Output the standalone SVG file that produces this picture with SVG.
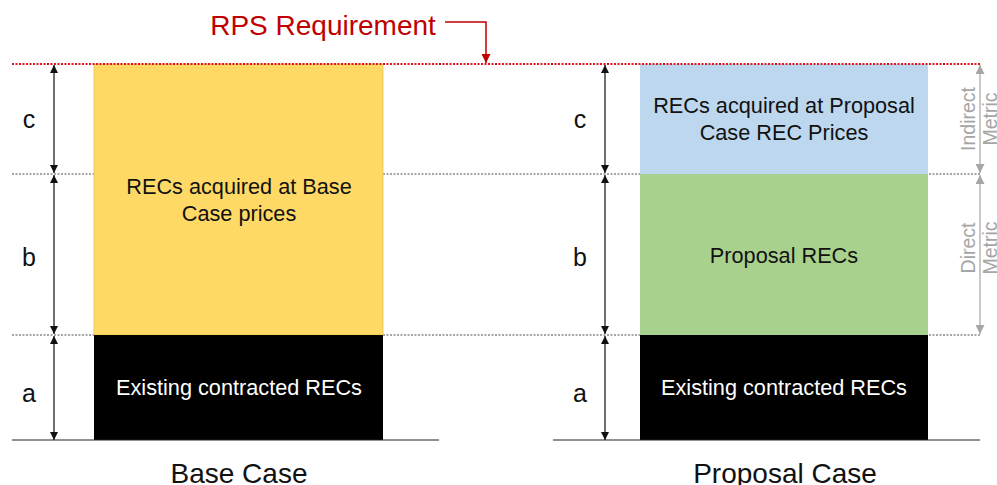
<svg xmlns="http://www.w3.org/2000/svg" width="997" height="485" viewBox="0 0 997 485">
<style>
text{font-family:"Liberation Sans",Arial,sans-serif}
.box{font-size:21.7px;text-anchor:middle;fill:#111}
.wt{font-size:21.7px;text-anchor:middle;fill:#fff}
.lbl{font-size:25px;text-anchor:middle;fill:#111}
.ttl{font-size:28px;text-anchor:middle;fill:#111}
.met{font-size:19.5px;text-anchor:middle;fill:#a6a6a6}
.dim{stroke:#111;stroke-width:1.2;fill:none}
.gdim{stroke:#a6a6a6;stroke-width:1.2;fill:none}
.grid{stroke:#a6a6a6;stroke-width:2;stroke-dasharray:2 1.5;fill:none}
.base{stroke:#222;stroke-width:1;fill:none}
</style>
<defs>
<marker id="ah" viewBox="0 0 10 10" refX="10" refY="5" markerWidth="8" markerHeight="8" markerUnits="userSpaceOnUse" orient="auto-start-reverse"><path d="M0,0 L10,5 L0,10 z" fill="#111"/></marker>
<marker id="gh" viewBox="0 0 10 10" refX="10" refY="5" markerWidth="9" markerHeight="9" markerUnits="userSpaceOnUse" orient="auto-start-reverse"><path d="M0,0 L10,5 L0,10 z" fill="#a6a6a6"/></marker>
<marker id="rh" viewBox="0 0 10 10" refX="10" refY="5" markerWidth="9" markerHeight="9" markerUnits="userSpaceOnUse" orient="auto"><path d="M0,0 L10,5 L0,10 z" fill="#c00000"/></marker>
</defs>
<g id="gridlines">
<line class="grid" x1="12" y1="174" x2="980" y2="174"/>
<line class="grid" x1="12" y1="335" x2="980" y2="335"/>
</g>
<g id="base-case">
<rect x="94" y="64" width="289" height="271" fill="#ffd966" stroke="#e8c24f" stroke-width="0.8"/>
<text class="box" x="239" y="194">RECs acquired at Base</text>
<text class="box" x="239" y="221">Case prices</text>
<rect x="94" y="335" width="289" height="105" fill="#000"/>
<text class="wt" x="239" y="395">Existing contracted RECs</text>
<line class="base" x1="12" y1="440" x2="439" y2="440"/>
<text class="ttl" x="239" y="483">Base Case</text>
</g>
<g id="proposal-case">
<rect x="640" y="64" width="288" height="110" fill="#bdd7ee"/>
<text class="box" x="784" y="113">RECs acquired at Proposal</text>
<text class="box" x="784" y="140">Case REC Prices</text>
<rect x="640" y="174" width="288" height="161" fill="#a9d18e"/>
<text class="box" x="784" y="263">Proposal RECs</text>
<rect x="640" y="335" width="288" height="105" fill="#000"/>
<text class="wt" x="784" y="395">Existing contracted RECs</text>
<line class="base" x1="553" y1="440" x2="980" y2="440"/>
<text class="ttl" x="785" y="483">Proposal Case</text>
</g>
<g id="rps">
<line x1="12" y1="64" x2="980" y2="64" stroke="#e0141e" stroke-width="2" stroke-dasharray="2 1.5"/>
<text x="323" y="35" font-size="28" text-anchor="middle" fill="#c00000">RPS Requirement</text>
</g>
<g id="connectors">
<path d="M445,22 H486 V63" stroke="#c00000" stroke-width="1.5" fill="none" marker-end="url(#rh)"/>
<line class="dim" x1="54" y1="65" x2="54" y2="173" marker-start="url(#ah)" marker-end="url(#ah)"/>
<line class="dim" x1="54" y1="175" x2="54" y2="334" marker-start="url(#ah)" marker-end="url(#ah)"/>
<line class="dim" x1="54" y1="336" x2="54" y2="440" marker-start="url(#ah)" marker-end="url(#ah)"/>
<line class="dim" x1="605" y1="65" x2="605" y2="173" marker-start="url(#ah)" marker-end="url(#ah)"/>
<line class="dim" x1="605" y1="175" x2="605" y2="334" marker-start="url(#ah)" marker-end="url(#ah)"/>
<line class="dim" x1="605" y1="336" x2="605" y2="440" marker-start="url(#ah)" marker-end="url(#ah)"/>
<line class="gdim" x1="980" y1="65" x2="980" y2="173" marker-start="url(#gh)" marker-end="url(#gh)"/>
<line class="gdim" x1="980" y1="175" x2="980" y2="334" marker-start="url(#gh)" marker-end="url(#gh)"/>
</g>
<g id="labels">
<text class="lbl" x="29" y="128">c</text>
<text class="lbl" x="29" y="266">b</text>
<text class="lbl" x="29" y="402">a</text>
<text class="lbl" x="580" y="128">c</text>
<text class="lbl" x="580" y="266">b</text>
<text class="lbl" x="580" y="402">a</text>
<text class="met" transform="translate(975,119) rotate(-90)">Indirect</text>
<text class="met" transform="translate(997,119) rotate(-90)">Metric</text>
<text class="met" transform="translate(975,248) rotate(-90)">Direct</text>
<text class="met" transform="translate(997,248) rotate(-90)">Metric</text>
</g>
</svg>
